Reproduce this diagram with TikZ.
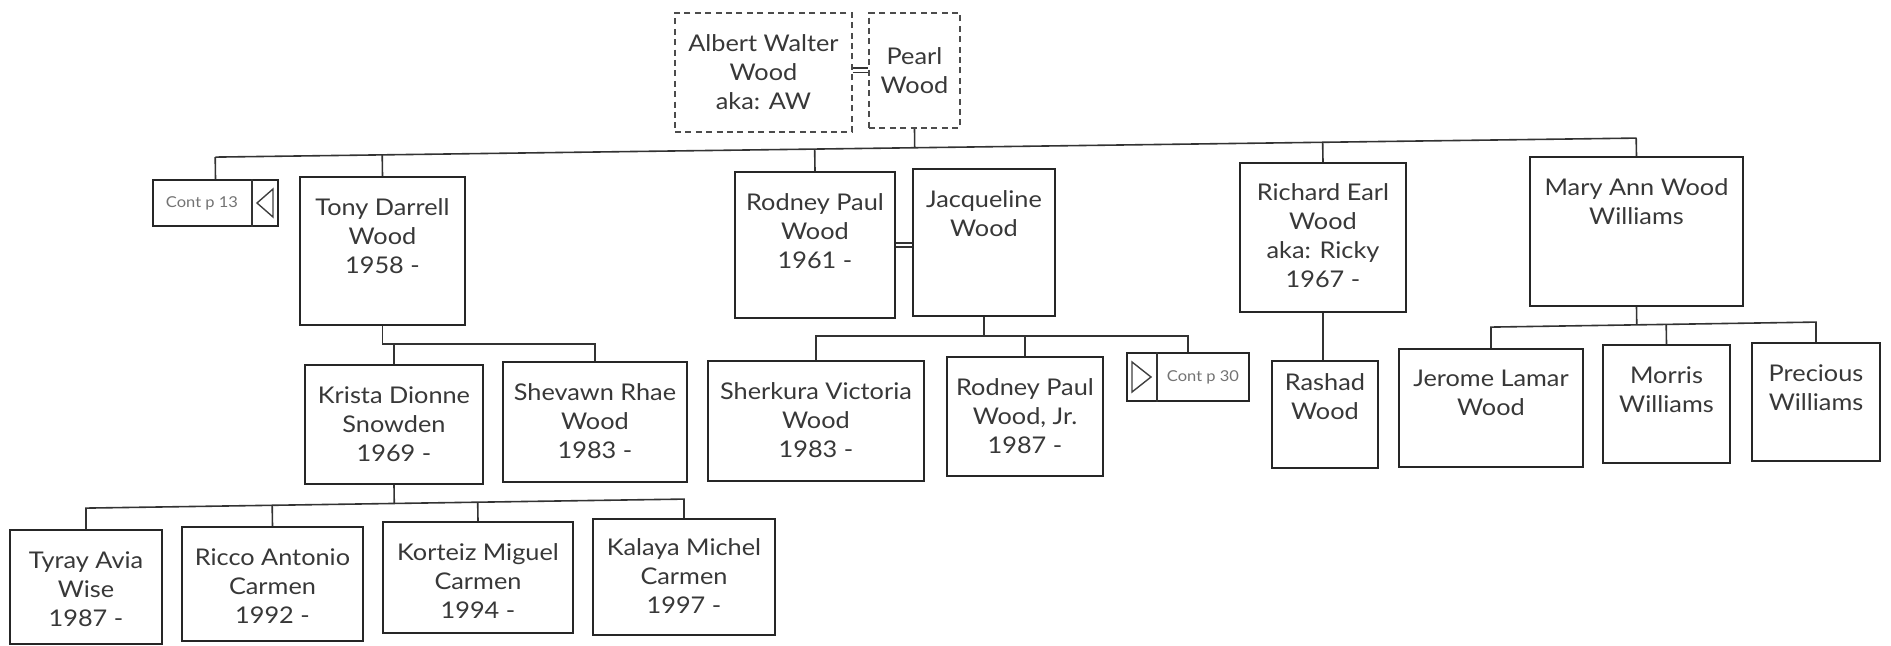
\documentclass[tikz,border=0pt]{standalone}
\usepackage{fontspec}
\setmainfont{Lato}[FakeStretch=1.1]
\usetikzlibrary{fit,calc}
\begin{document}
\begin{tikzpicture}[x=0.5pt,y=-0.5pt,
  box/.style={draw=black!85, line width=0.9pt, inner sep=0pt, fit={#1}},
  dbox/.style={box={#1}, draw=black!70, dash pattern=on 3pt off 2.2pt},
  lbl/.style={anchor=north, inner sep=0pt, align=center, text=black!78, font=\fontsize{11.5}{14.5}\selectfont},
  clbl/.style={lbl, anchor=center},
  wire/.style={draw=black!80, line width=0.8pt},
  tinytext/.style={text=black!55, inner sep=0pt, font=\fontsize{7.5}{9}\selectfont},
  icon/.style={draw=black!75, line width=0.7pt}
]
\useasboundingbox (0,0) rectangle (1891,646);
\fill[white] (0,0) rectangle (1891,646);

% generation 1
\node[dbox={(675,13) (852,132)}] (albert) {};
\node[clbl] (albertT) at (albert.center) {Albert Walter\\Wood\\aka: AW};
\node[dbox={(869,13) (960,128)}] (pearl) {};
\node[clbl] (pearlT) at (pearl.center) {Pearl\\Wood};

% generation 2
\node[box={(153,180) (278,226)}] (cp13) {};
\coordinate (d13) at (252,200);
\draw[wire] (cp13.north -| d13) -- (cp13.south -| d13);
\draw[icon] (257,203) -- (273,189) -- (273,217) -- cycle;
\node[tinytext] (cp13T) at (202,203) {Cont p 13};

\node[box={(300,177) (465,325)}] (tony) {};
\node[lbl] (tonyT) at ([yshift=-11pt]tony.north) {Tony Darrell\\Wood\\1958 -};
\node[box={(735,172) (895,318)}] (rodney) {};
\node[lbl] (rodneyT) at ([yshift=-11pt]rodney.north) {Rodney Paul\\Wood\\1961 -};
\node[box={(913,169) (1055,316)}] (jacq) {};
\node[lbl] (jacqT) at ([yshift=-11pt]jacq.north) {Jacqueline\\Wood};
\node[box={(1240,163) (1406,312)}] (richard) {};
\node[lbl] (richardT) at ([yshift=-10.5pt]richard.north) {Richard Earl\\Wood\\aka: Ricky\\1967 -};
\node[box={(1530,157) (1743,306)}] (mary) {};
\node[lbl] (maryT) at ([yshift=-11pt]mary.north) {Mary Ann Wood\\Williams};

% generation 3
\node[box={(305,365) (483,484)}] (krista) {};
\node[lbl] (kristaT) at ([yshift=-11pt]krista.north) {Krista Dionne\\Snowden\\1969 -};
\node[box={(503,362) (687,482)}] (shev) {};
\node[lbl] (shevT) at ([yshift=-11pt]shev.north) {Shevawn Rhae\\Wood\\1983 -};
\node[box={(708,361) (924,481)}] (sherk) {};
\node[lbl] (sherkT) at ([yshift=-11pt]sherk.north) {Sherkura Victoria\\Wood\\1983 -};
\node[box={(947,357) (1103,476)}] (rodjr) {};
\node[lbl] (rodjrT) at ([yshift=-11pt]rodjr.north) {Rodney Paul\\Wood, Jr.\\1987 -};
\node[box={(1127,353) (1249,401)}] (cp30) {};
\coordinate (d30) at (1157,380);
\draw[wire] (cp30.north -| d30) -- (cp30.south -| d30);
\draw[icon] (1132,362) -- (1151,377) -- (1132,392) -- cycle;
\node[tinytext] (cp30T) at (1203,377) {Cont p 30};
\node[box={(1272,361) (1378,468)}] (rashad) {};
\node[lbl] (rashadT) at ([yshift=-6.5pt]rashad.north) {Rashad\\Wood};
\node[box={(1399,349) (1583,467)}] (jerome) {};
\node[lbl] (jeromeT) at ([yshift=-11pt]jerome.north) {Jerome Lamar\\Wood};
\node[box={(1603,345) (1730,463)}] (morris) {};
\node[lbl] (morrisT) at ([yshift=-11pt]morris.north) {Morris\\Williams};
\node[box={(1752,343) (1880,461)}] (precious) {};
\node[lbl] (preciousT) at ([yshift=-11pt]precious.north) {Precious\\Williams};

% generation 4
\node[box={(10,530) (162,644)}] (tyray) {};
\node[lbl] (tyrayT) at ([yshift=-11pt]tyray.north) {Tyray Avia\\Wise\\1987 -};
\node[box={(182,527) (363,641)}] (ricco) {};
\node[lbl] (riccoT) at ([yshift=-11pt]ricco.north) {Ricco Antonio\\Carmen\\1992 -};
\node[box={(383,522) (573,633)}] (korteiz) {};
\node[lbl] (korteizT) at ([yshift=-11pt]korteiz.north) {Korteiz Miguel\\Carmen\\1994 -};
\node[box={(593,519) (775,635)}] (kalaya) {};
\node[lbl] (kalayaT) at ([yshift=-10pt]kalaya.north) {Kalaya Michel\\Carmen\\1997 -};

% marriages
\draw[wire] ([yshift=2.3pt]albert.east) -- ([yshift=2.3pt]albert.east -| pearl.west);
\draw[wire] ([yshift=0pt]albert.east) -- ([yshift=0pt]albert.east -| pearl.west);
\draw[wire] ([yshift=1pt]rodney.east) -- ([yshift=1pt]rodney.east -| jacq.west);
\draw[wire] ([yshift=-1pt]rodney.east) -- ([yshift=-1pt]rodney.east -| jacq.west);

% main bus
\coordinate (bL) at ([yshift=11pt]cp13.north);
\coordinate (bR) at ([yshift=9pt]mary.north);
\draw[wire] (bL) -- (bR);
\draw[wire] (pearl.south) -- ($(bL)!(pearl.south)!(bR)$);
\foreach \n in {cp13,tony,rodney,richard,mary}
  \draw[wire] (\n.north) -- ($(bL)!(\n.north)!(bR)$);

% Tony's children
\coordinate (tb) at ([yshift=-9pt]tony.south);
\draw[wire] (tony.south) -- (tb) -- (tb -| shev.north) -- (shev.north);
\draw[wire] (krista.north) -- (krista.north |- tb);

% Rodney & Jacqueline's children
\coordinate (jb) at ([yshift=-9.5pt]jacq.south);
\draw[wire] (jacq.south) -- (jb);
\draw[wire] (sherk.north) |- (jb -| cp30.north) -- (cp30.north);
\draw[wire] (rodjr.north) -- (rodjr.north |- jb);

% Richard's child
\draw[wire] (richard.south) -- (richard.south |- rashad.north);

% Mary's children
\coordinate (mL) at ([yshift=10.5pt]jerome.north);
\coordinate (mR) at ([yshift=10pt]precious.north);
\draw[wire] (jerome.north) -- (mL) -- (mR) -- (precious.north);
\draw[wire] (morris.north) -- ($(mL)!(morris.north)!(mR)$);
\draw[wire] (mary.south) -- ($(mL)!(mary.south)!(mR)$);

% Krista's children
\coordinate (kL) at ([yshift=10.5pt]tyray.north);
\coordinate (kR) at ([yshift=9.5pt]kalaya.north);
\draw[wire] (tyray.north) -- (kL) -- (kR) -- (kalaya.north);
\draw[wire] (ricco.north) -- ($(kL)!(ricco.north)!(kR)$);
\draw[wire] (korteiz.north) -- ($(kL)!(korteiz.north)!(kR)$);
\draw[wire] (krista.south) -- ($(kL)!(krista.south)!(kR)$);
\end{tikzpicture}
\end{document}
